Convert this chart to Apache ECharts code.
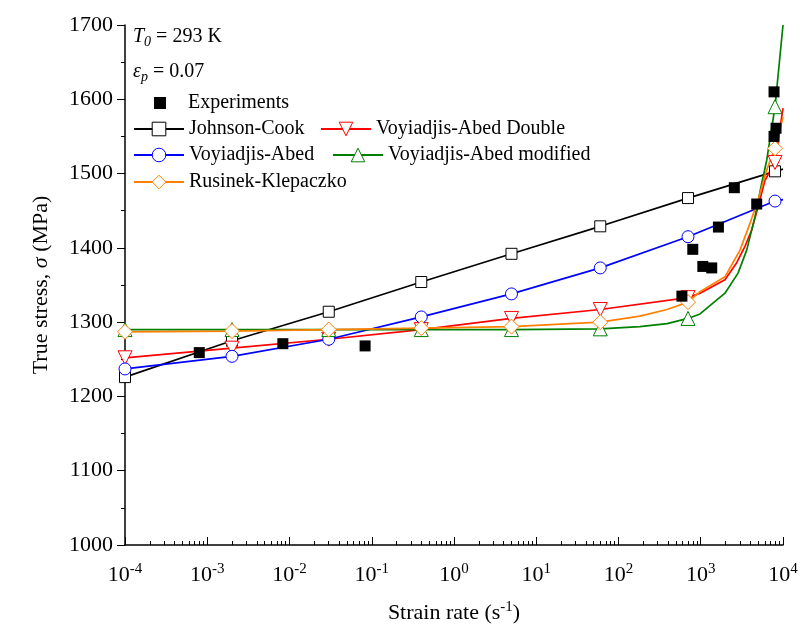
<!DOCTYPE html>
<html>
<head>
<meta charset="utf-8">
<script src="https://cdn.jsdelivr.net/npm/echarts@6/dist/echarts.min.js"></script>
<style>
  html, body { margin: 0; padding: 0; background: #fff; }
  #main { width: 801px; height: 630px; }
</style>
</head>
<body>
<div id="main"></div>
<script>
const FONT = 'Liberation Serif';

// strain rates where the model markers sit
const markerRates = [1e-4, 2e-3, 0.03, 0.4, 5, 60, 700, 8000];
const johnsonCook = [1226, 1275, 1314, 1354, 1392, 1429, 1467, 1503];
const voyAbed = [1237, 1254, 1277, 1307, 1338, 1373, 1415, 1463];
const voyAbedDouble = [1252, 1265, 1277, 1290, 1305, 1317, 1333, 1515];
const voyAbedMod = [1290, 1290, 1290, 1290, 1290, 1291, 1305, 1590];
const rusinek = [1287, 1288, 1290, 1292, 1294, 1300, 1327, 1534];

// extra curve points (line only, no marker)
const jcLineRates = [1e4];
const jcLineStress = [1506];
const vaLineRates = [1e4];
const vaLineStress = [1465];
const vadLineRates = [980, 1970, 2735, 3450, 4160, 4970, 6040, 1e4];
const vadLineStress = [1339, 1357, 1380, 1402, 1424, 1455, 1491, 1588];
const vamLineRates = [182, 390, 980, 1970, 2840, 3620, 4570, 5510, 6340, 1e4];
const vamLineStress = [1294, 1298, 1311, 1339, 1366, 1397, 1442, 1487, 1518, 1700];
const rkLineRates = [182, 390, 980, 1970, 3000, 3970, 4970, 6340, 1e4];
const rkLineStress = [1308, 1317, 1341, 1361, 1397, 1433, 1464, 1505, 1576];

// experiments
const expRates = [8.0e-4, 8.3e-3, 0.083, 590, 800, 1060, 1360, 1640, 2560, 4790, 7780, 8230, 7780];
const expStress = [1259, 1271, 1268, 1335, 1398, 1375, 1373, 1428, 1481, 1459, 1610, 1561, 1550];

// axis ticks
const majorExps = [-4, -3, -2, -1, 0, 1, 2, 3, 4];
const majorRates = majorExps.map(e => Math.pow(10, e));
const minorRates = [];
for (let e = -4; e < 4; e++) {
    for (let m = 2; m <= 9; m++) {
        minorRates.push(m * Math.pow(10, e));
    }
}

function buildCurve(markerVals, lineRates, lineVals) {
    let pts = markerRates.map((r, i) => ({ value: [r, markerVals[i]] }));
    lineRates.forEach((r, i) => pts.push({ value: [r, lineVals[i]], symbol: 'none' }));
    pts.sort((a, b) => a.value[0] - b.value[0]);
    return pts;
}

function modelSeries(name, color, symbol, size, data, rotate) {
    return {
        name: name,
        type: 'line',
        data: data,
        symbol: symbol,
        symbolSize: size,
        symbolRotate: rotate || 0,
        lineStyle: { color: color, width: 1.7 },
        itemStyle: { color: '#fff', borderColor: color, borderWidth: 1 },
        emphasis: { disabled: true },
        z: 3
    };
}

const chart = echarts.init(document.getElementById('main'));

const legendText = { fontFamily: FONT, fontSize: 20, color: '#000' };
function legendAt(name, left, top, w, h, textPad) {
    return {
        data: [name], left: left, top: top, padding: 0,
        itemWidth: w, itemHeight: h, selectedMode: false,
        itemStyle: { borderWidth: 1 },
        textStyle: Object.assign({ padding: [0, 0, 0, textPad || 0] }, legendText)
    };
}

const option = {
    animation: false,
    grid: { left: 125, right: 18, top: 25, bottom: 85 },
    xAxis: [
        {
            type: 'log', logBase: 10, min: 1e-4, max: 1e4, position: 'bottom',
            axisLine: { lineStyle: { color: '#000', width: 1.5 } },
            axisTick: { inside: true, length: 8, customValues: majorRates, lineStyle: { color: '#000', width: 1 } },
            axisLabel: {
                customValues: majorRates,
                margin: 17,
                color: '#000',
                formatter: function (v) {
                    return '{b|10}{s|' + Math.round(Math.log10(v)) + '}';
                },
                rich: {
                    b: { fontFamily: FONT, fontSize: 22, color: '#000' },
                    s: { fontFamily: FONT, fontSize: 15, color: '#000', padding: [0, 0, 12, 0] }
                }
            },
            splitLine: { show: false },
            name: 'Strain rate (s{s|-1})',
            nameLocation: 'middle',
            nameGap: 55,
            nameTextStyle: {
                fontFamily: FONT, fontSize: 22, color: '#000',
                rich: { s: { fontFamily: FONT, fontSize: 15, color: '#000', padding: [0, 0, 12, 0] } }
            }
        },
        {
            type: 'log', logBase: 10, min: 1e-4, max: 1e4, position: 'bottom',
            axisLine: { show: false },
            axisLabel: { show: false },
            axisTick: { inside: true, length: 4, customValues: minorRates, lineStyle: { color: '#000', width: 1 } },
            splitLine: { show: false }
        }
    ],
    yAxis: {
        type: 'value', min: 1000, max: 1700, interval: 100,
        axisLine: { show: true, lineStyle: { color: '#000', width: 1.5 } },
        axisTick: { show: true, inside: false, length: 8, lineStyle: { color: '#000' } },
        minorTick: { show: true, splitNumber: 2, length: 4, lineStyle: { color: '#000' } },
        splitLine: { show: false },
        axisLabel: {
            fontFamily: FONT, fontSize: 22, color: '#000', margin: 12,
            formatter: function (v) { return String(v); }
        },
        name: 'True stress, {i|σ} (MPa)',
        nameLocation: 'middle',
        nameGap: 73,
        nameTextStyle: {
            fontFamily: FONT, fontSize: 22, color: '#000',
            rich: { i: { fontFamily: FONT, fontSize: 22, fontStyle: 'italic', color: '#000' } }
        }
    },
    legend: [
        legendAt('Experiments', 154, 93, 12, 12, 17),
        legendAt('Johnson-Cook', 133, 119, 50, 17),
        legendAt('Voyiadjis-Abed Double', 320, 119, 50, 17),
        legendAt('Voyiadjis-Abed', 133, 145, 50, 17),
        legendAt('Voyiadjis-Abed modified', 332, 145, 50, 17),
        legendAt('Rusinek-Klepaczko', 133, 172, 50, 17)
    ],
    graphic: [
        {
            type: 'text', left: 133, top: 27,
            style: {
                text: '{i|T}{s|0} = 293 K',
                fill: '#000', fontFamily: FONT, fontSize: 20,
                rich: {
                    i: { fontFamily: FONT, fontSize: 20, fontStyle: 'italic' },
                    s: { fontFamily: FONT, fontSize: 14, fontStyle: 'italic', padding: [10, 0, 0, 0] }
                }
            }
        },
        {
            type: 'text', left: 133, top: 62,
            style: {
                text: '{i|ε}{s|p} = 0.07',
                fill: '#000', fontFamily: FONT, fontSize: 20,
                rich: {
                    i: { fontFamily: FONT, fontSize: 20, fontStyle: 'italic' },
                    s: { fontFamily: FONT, fontSize: 14, fontStyle: 'italic', padding: [10, 0, 0, 0] }
                }
            }
        }
    ],
    series: [
        modelSeries('Johnson-Cook', '#000000', 'rect', 11, buildCurve(johnsonCook, jcLineRates, jcLineStress)),
        modelSeries('Voyiadjis-Abed Double', '#ff0000', 'triangle', 14, buildCurve(voyAbedDouble, vadLineRates, vadLineStress), 180),
        modelSeries('Voyiadjis-Abed', '#0000ff', 'circle', 12, buildCurve(voyAbed, vaLineRates, vaLineStress)),
        modelSeries('Voyiadjis-Abed modified', '#008000', 'triangle', 14, buildCurve(voyAbedMod, vamLineRates, vamLineStress)),
        modelSeries('Rusinek-Klepaczko', '#ff8000', 'diamond', 15, buildCurve(rusinek, rkLineRates, rkLineStress)),
        {
            name: 'Experiments',
            type: 'scatter',
            symbol: 'rect',
            symbolSize: 11,
            itemStyle: { color: '#000', opacity: 1 },
            emphasis: { disabled: true },
            data: expRates.map((r, i) => [r, expStress[i]]),
            z: 5
        }
    ]
};

chart.setOption(option);
</script>
</body>
</html>
